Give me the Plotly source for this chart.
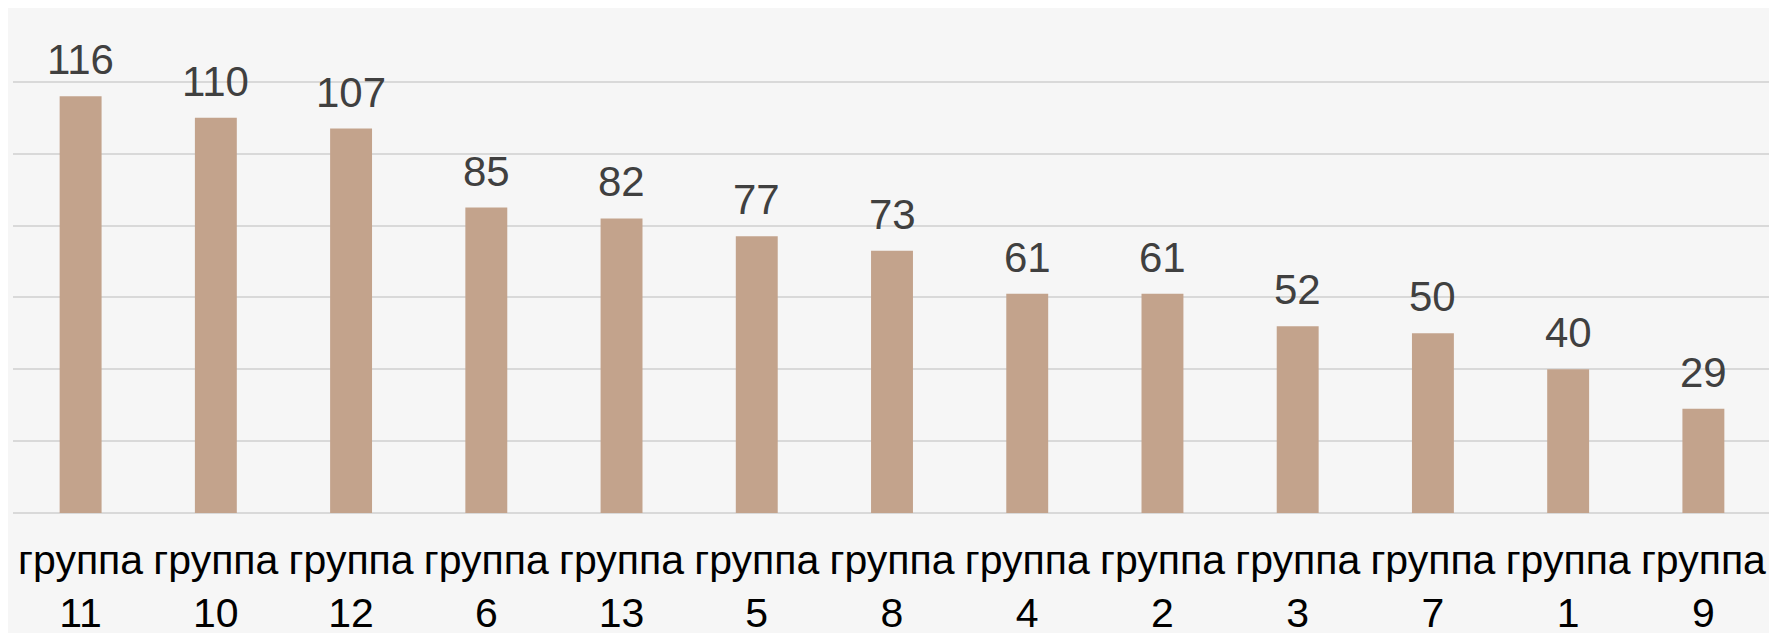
import plotly.graph_objects as go

categories = ["группа<br>11", "группа<br>10", "группа<br>12", "группа<br>6", "группа<br>13",
              "группа<br>5", "группа<br>8", "группа<br>4", "группа<br>2", "группа<br>3",
              "группа<br>7", "группа<br>1", "группа<br>9"]
values = [116, 110, 107, 85, 82, 77, 73, 61, 61, 52, 50, 40, 29]

BAR_COLOR = "#C3A38C"
BG = "#F6F6F6"
FONT = "Liberation Sans, Arial, sans-serif"

fig = go.Figure()
fig.add_trace(go.Bar(x=categories, y=values, marker=dict(color=BAR_COLOR, line=dict(width=0)),
                     hoverinfo="skip"))

for c, v in zip(categories, values):
    fig.add_annotation(x=c, y=v, text=str(v), showarrow=False, yanchor="bottom",
                       yshift=11, font=dict(family=FONT, size=42, color="#404040"))

# page body has a default 8px margin, so the figure is sized to fit the window
fig.update_layout(
    width=1769, height=625,
    margin=dict(l=5, r=6, t=2, b=120, autoexpand=False),
    paper_bgcolor=BG, plot_bgcolor=BG,
    bargap=0.69,
    showlegend=False,
    font=dict(family=FONT, color="#000000"),
)
fig.update_xaxes(tickfont=dict(family=FONT, size=41, color="#000000"), showgrid=False,
                 ticks="", ticklabelstandoff=19, showline=False, automargin=False)
fig.update_yaxes(range=[0, 140], dtick=20, showticklabels=False, showgrid=True,
                 gridcolor="#D9D9D9", gridwidth=2, zeroline=True, zerolinecolor="#D9D9D9",
                 zerolinewidth=2, automargin=False)

fig.write_html("out.html")
